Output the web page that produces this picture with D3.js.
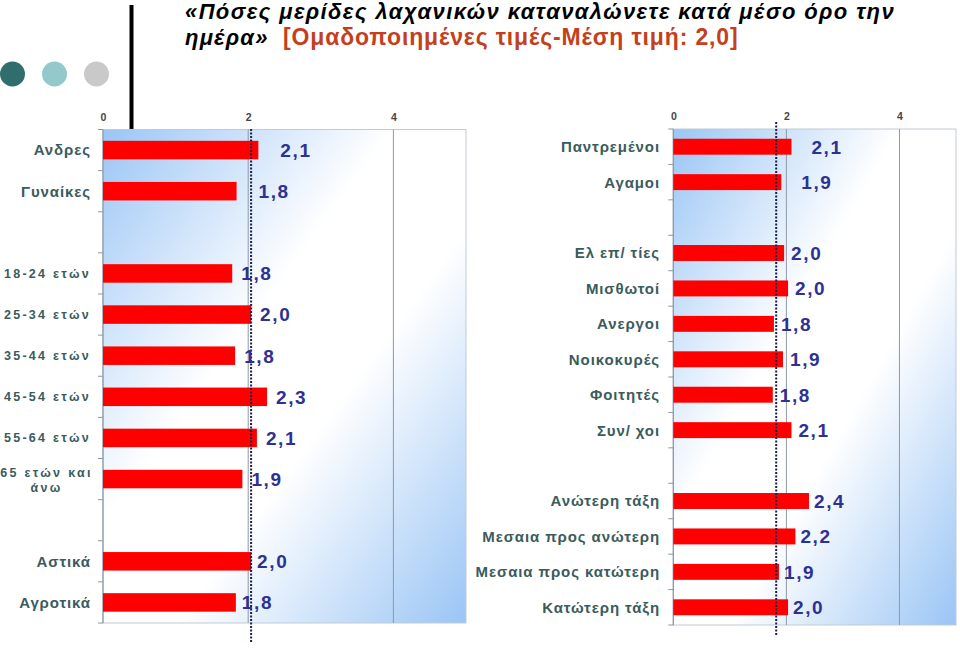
<!DOCTYPE html>
<html>
<head>
<meta charset="utf-8">
<script src="https://cdn.jsdelivr.net/npm/d3@7"></script>
<style>
  html, body { margin: 0; padding: 0; background: #ffffff; }
  svg { display: block; }
  text { font-family: "Liberation Sans", Arial, sans-serif; }
</style>
</head>
<body>
<svg id="chart" width="960" height="648"></svg>
<script>
// ---------- data ----------
const titleLine1 = "«Πόσες μερίδες λαχανικών καταναλώνετε κατά μέσο όρο την";
const titleLine2a = "ημέρα»";
const titleLine2b = "[Ομαδοποιημένες τιμές-Μέση τιμή: 2,0]";

const leftCategories = ["Ανδρες", "Γυναίκες", "", "18-24 ετών", "25-34 ετών", "35-44 ετών",
  "45-54 ετών", "55-64 ετών", "65 ετών και άνω", "", "Αστικά", "Αγροτικά"];
const leftValues = [2.14, 1.84, null, 1.78, 2.04, 1.82, 2.26, 2.12, 1.92, null, 2.04, 1.83];

const rightCategories = ["Παντρεμένοι", "Αγαμοι", "", "Ελ επ/ τίες", "Μισθωτοί", "Ανεργοι",
  "Νοικοκυρές", "Φοιτητές", "Συν/ χοι", "", "Ανώτερη τάξη", "Μεσαια προς ανώτερη",
  "Μεσαια προς κατώτερη", "Κατώτερη τάξη"];
const rightValues = [2.09, 1.91, null, 1.96, 2.03, 1.78, 1.94, 1.76, 2.09, null, 2.40, 2.16, 1.87, 2.03];

const xTicks = [0, 2, 4];
const xDomain = [0, 5];
const meanLines = [2.04, 1.82];   // dotted "mean" markers as drawn in each panel

// ---------- layout ----------
const svg = d3.select("#chart");
const defs = svg.append("defs");

// decorations
const dots = ["#2F6E6C", "#93C9CB", "#C9C9C9"];
svg.selectAll("circle.deco").data(dots).join("circle")
  .attr("class", "deco")
  .attr("cx", (d, i) => 12.5 + i * 42)
  .attr("cy", 74).attr("r", 12.5)
  .attr("fill", d => d);
svg.append("rect").attr("x", 129.5).attr("y", 5).attr("width", 4).attr("height", 124).attr("fill", "#000");

// title
svg.append("text").attr("x", 185).attr("y", 19)
  .attr("font-size", 22).attr("font-weight", "bold").attr("font-style", "italic")
  .attr("letter-spacing", 1.4).attr("fill", "#000").text(titleLine1);
svg.append("text").attr("x", 185).attr("y", 45)
  .attr("font-size", 22).attr("font-weight", "bold").attr("font-style", "italic")
  .attr("letter-spacing", 1.2).attr("fill", "#000").text(titleLine2a);
svg.append("text").attr("x", 283).attr("y", 45)
  .attr("font-size", 23).attr("font-weight", "bold")
  .attr("letter-spacing", 0.85).attr("fill", "#C4401C").text(titleLine2b);

const fmt = v => d3.format(".1f")(v).replace(".", ",");

const panels = [
  { id: "L", cats: leftCategories, vals: leftValues, x0: 103, x1: 466, y0: 129.5, y1: 623,
    mean: meanLines[0], meanTop: 129, meanBottom: 642, labelRight: 91, offsets: [22, 9, 6] },
  { id: "R", cats: rightCategories, vals: rightValues, x0: 673.3, x1: 956, y0: 129, y1: 625,
    mean: meanLines[1], meanTop: 122, meanBottom: 635, labelRight: 660, offsets: [20, 7, 5] }
];

panels.forEach(p => {
  const g = svg.append("g");
  const x = d3.scaleLinear().domain(xDomain).range([p.x0, p.x1]);
  const idx = p.cats.map((c, i) => i);
  const y = d3.scaleBand().domain(idx).range([p.y0, p.y1]).paddingInner(0.55).paddingOuter(0.275);

  // gradient background
  const grad = defs.append("linearGradient").attr("id", "bg" + p.id)
    .attr("x1", 0).attr("y1", 0).attr("x2", 1).attr("y2", 1);
  grad.append("stop").attr("offset", 0).attr("stop-color", "#9AC5F5");
  grad.append("stop").attr("offset", 0.4).attr("stop-color", "#FFFFFF");
  grad.append("stop").attr("offset", 0.6).attr("stop-color", "#FFFFFF");
  grad.append("stop").attr("offset", 1).attr("stop-color", "#9AC5F5");
  g.append("rect").attr("x", p.x0).attr("y", p.y0).attr("width", p.x1 - p.x0).attr("height", p.y1 - p.y0)
    .attr("fill", `url(#bg${p.id})`).attr("stroke", "#C3CAD2").attr("stroke-width", 1);

  // gridlines
  g.selectAll("line.grid").data(xTicks.filter(t => t > 0)).join("line")
    .attr("x1", d => x(d)).attr("x2", d => x(d))
    .attr("y1", p.y0).attr("y2", p.y1)
    .attr("stroke", "#8E99A6").attr("stroke-width", 1);

  // top axis labels
  const ax = g.append("g").attr("transform", `translate(0,${p.y0 - 9})`)
    .call(d3.axisTop(x).tickValues(xTicks).tickSize(0).tickPadding(0).tickFormat(d3.format("d")));
  ax.select(".domain").remove();
  ax.selectAll("text").attr("font-size", 10.5).attr("font-weight", "bold").attr("fill", "#444")
    .attr("font-family", "Liberation Sans, Arial, sans-serif");

  // left axis line and boundary ticks
  g.append("line").attr("x1", p.x0).attr("x2", p.x0).attr("y1", p.y0).attr("y2", p.y1)
    .attr("stroke", "#8C96A0").attr("stroke-width", 1.2);
  const bounds = d3.range(p.cats.length + 1).map(i => p.y0 + i * y.step());
  g.selectAll("line.tk").data(bounds).join("line")
    .attr("x1", p.x0 - 5).attr("x2", p.x0).attr("y1", d => d).attr("y2", d => d)
    .attr("stroke", "#8C96A0").attr("stroke-width", 1);

  // group index per row (groups separated by blanks)
  let grp = 0;
  const groups = p.cats.map(c => { if (c === "") { grp++; return -1; } return grp; });

  // bars
  const rows = idx.filter(i => p.vals[i] != null);
  g.selectAll("rect.bar").data(rows).join("rect")
    .attr("x", x(0)).attr("y", i => y(i))
    .attr("width", i => x(p.vals[i]) - x(0)).attr("height", y.bandwidth())
    .attr("fill", "#FF0000");

  // mean dotted line
  g.append("line").attr("x1", x(p.mean)).attr("x2", x(p.mean))
    .attr("y1", p.meanTop).attr("y2", p.meanBottom)
    .attr("stroke", "#1B1F4E").attr("stroke-width", 2).attr("stroke-dasharray", "2,1.5");

  // value labels
  g.selectAll("text.val").data(rows).join("text")
    .attr("x", i => x(p.vals[i]) + p.offsets[groups[i]])
    .attr("y", i => y(i) + y.bandwidth() / 2)
    .attr("dy", "0.36em")
    .attr("font-size", 19).attr("font-weight", "bold").attr("letter-spacing", 1.6)
    .attr("fill", "#2E3192")
    .text(i => fmt(p.vals[i]));

  // category labels
  rows.forEach(i => {
    const name = p.cats[i];
    const cy = y(i) + y.bandwidth() / 2;
    const isAge = /^\d/.test(name);
    const t = g.append("text")
      .attr("font-weight", "bold").attr("fill", "#3A5B5C")
      .attr("font-size", isAge ? 12.5 : 15)
      .attr("letter-spacing", isAge ? 2.3 : 0.9);
    t.attr("x", p.labelRight).attr("y", cy).attr("dy", "0.36em").attr("text-anchor", "end").text(name);
    const avail = p.labelRight + 10;
    if (t.node().getComputedTextLength() > avail) {
      const words = name.split(" ");
      const l1 = words.slice(0, -1).join(" "), l2 = words[words.length - 1];
      t.text(null).attr("text-anchor", "middle").attr("x", null).attr("dy", null).attr("y", null);
      const cx = p.labelRight / 2 + 1;
      t.append("tspan").attr("x", cx).attr("y", cy - 7).attr("dy", "0.36em").text(l1);
      t.append("tspan").attr("x", cx).attr("y", cy + 8).attr("dy", "0.36em").text(l2);
    }
  });
});
</script>
</body>
</html>
